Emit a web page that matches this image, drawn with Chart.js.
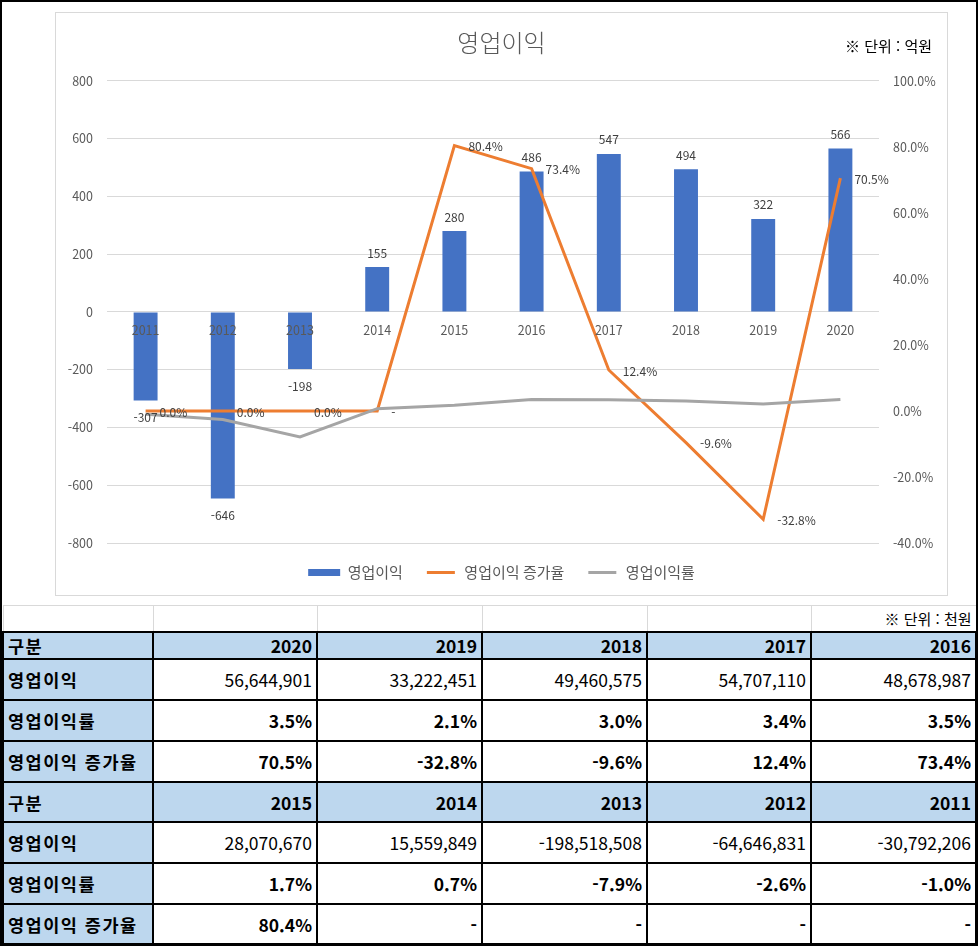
<!DOCTYPE html>
<html lang="ko">
<head>
<meta charset="utf-8">
<title>영업이익</title>
<script src="https://cdn.jsdelivr.net/npm/chart.js@4.4.1/dist/chart.umd.min.js"></script>
<style>
    html, body { margin: 0; padding: 0; background: #fff; }
    #page {
        position: relative;
        width: 978px;
        height: 946px;
        box-sizing: border-box;
        border: 2px solid #000;
        font-family: "Noto Sans CJK KR", "Noto Sans", sans-serif;
        overflow: hidden;
    }
    #chartBox {
        position: absolute;
        left: 53px;
        top: 10px;
        width: 893px;
        height: 584px;
        box-sizing: border-box;
        border: 1px solid #d9d9d9;
    }
    #chartBox canvas { display: block; }
    #unitChart {
        position: absolute;
        right: 44px;
        top: 33px;
        font-size: 15px;
        color: #000;
    }
    #dataTable {
        position: absolute;
        left: 0;
        top: 603px;
        width: 973px;
        border-collapse: collapse;
        table-layout: fixed;
        font-size: 17.5px;
        color: #000;
    }
    #dataTable td {
        border: 2px solid #000;
        padding: 0 4px;
        text-align: right;
        vertical-align: middle;
        white-space: nowrap;
        overflow: hidden;
    }
    #dataTable tr.unit td {
        border: 1px solid #d9d9d9;
        border-bottom: 2px solid #000;
        font-size: 15px;
        height: 25px;
    }
    #dataTable td.label { text-align: left; font-weight: bold; background: #bdd7ee; letter-spacing: 1.5px; }
    #dataTable tr.head td { background: #bdd7ee; font-weight: bold; }
    #dataTable td.pct { font-weight: bold; }
</style>
</head>
<body>
<div id="page">
    <div id="chartBox"><canvas id="opChart" width="891" height="582"></canvas></div>
    <div id="unitChart">※ 단위 : 억원</div>
    <table id="dataTable"></table>
</div>
<script>
// ---- data ----
const years = ['2011', '2012', '2013', '2014', '2015', '2016', '2017', '2018', '2019', '2020'];
const opProfit = [-307, -646, -198, 155, 280, 486, 547, 494, 322, 566];           // 억원
const growthRate = [0, 0, 0, 0, 80.4, 73.4, 12.4, -9.6, -32.8, 70.5];             // %
const growthLabels = ['0.0%', '0.0%', '0.0%', '-', '80.4%', '73.4%', '12.4%', '-9.6%', '-32.8%', '70.5%'];
const marginRate = [-1.0, -2.6, -7.9, 0.7, 1.7, 3.5, 3.4, 3.0, 2.1, 3.5];          // %

// table (천원)
const opProfitWon = [-30792206, -64646831, -198518508, 15559849, 28070670, 48678987, 54707110, 49460575, 33222451, 56644901];
const growthTable = ['-', '-', '-', '-', '80.4%', '73.4%', '12.4%', '-9.6%', '-32.8%', '70.5%'];

const tickColor = '#595959';
const gridColor = '#d9d9d9';
const fontFamily = '"Noto Sans CJK KR", "Noto Sans", sans-serif';

// ---- data labels ----
const labelPlugin = {
    id: 'valueLabels',
    afterDatasetsDraw(chart) {
        const ctx = chart.ctx;
        ctx.save();
        ctx.font = '12px ' + fontFamily;
        ctx.fillStyle = '#404040';
        ctx.textBaseline = 'middle';

        // bar labels
        const bars = chart.getDatasetMeta(0).data;
        bars.forEach((bar, i) => {
            const v = opProfit[i];
            ctx.textAlign = 'center';
            const y = v >= 0 ? bar.y - 14 : bar.y + 17;
            ctx.fillText(String(v), bar.x, y);
        });

        // growth labels
        const pts = chart.getDatasetMeta(1).data;
        pts.forEach((p, i) => {
            ctx.textAlign = 'left';
            ctx.fillText(growthLabels[i], p.x + 14, p.y + 1);
        });
        ctx.restore();
    }
};

const ctx = document.getElementById('opChart');
new Chart(ctx, {
    type: 'bar',
    data: {
        labels: years,
        datasets: [
            {
                label: '영업이익',
                data: opProfit,
                backgroundColor: '#4472c4',
                yAxisID: 'y',
                order: 3,
                categoryPercentage: 1,
                barPercentage: 0.31
            },
            {
                type: 'line',
                label: '영업이익 증가율',
                data: growthRate,
                borderColor: '#ed7d31',
                backgroundColor: '#ed7d31',
                borderWidth: 3,
                pointRadius: 0,
                tension: 0,
                yAxisID: 'y1',
                order: 2
            },
            {
                type: 'line',
                label: '영업이익률',
                data: marginRate,
                borderColor: '#a5a5a5',
                backgroundColor: '#a5a5a5',
                borderWidth: 3,
                pointRadius: 0,
                tension: 0,
                yAxisID: 'y1',
                order: 1
            }
        ]
    },
    options: {
        responsive: false,
        animation: false,
        layout: { padding: { left: 0, right: 0, top: 0, bottom: 5 } },
        plugins: {
            title: {
                display: true,
                text: '영업이익',
                color: tickColor,
                font: { size: 24, family: fontFamily, weight: 300 },
                padding: { top: 15, bottom: 24 }
            },
            legend: {
                position: 'bottom',
                labels: {
                    color: tickColor,
                    font: { size: 15, family: fontFamily },
                    boxWidth: 32,
                    boxHeight: 7,
                    padding: 22,
                    sort: (a, b) => a.datasetIndex - b.datasetIndex,
                    generateLabels: function(chart) {
                        const items = Chart.defaults.plugins.legend.labels.generateLabels(chart);
                        items.forEach(item => {
                            const ds = chart.data.datasets[item.datasetIndex];
                            item.fillStyle = ds.borderColor || ds.backgroundColor;
                            if (ds.type === 'line') {
                                item.strokeStyle = '#ffffff';
                                item.lineWidth = 4;
                            } else {
                                item.lineWidth = 0;
                            }
                        });
                        return items;
                    }
                }
            },
            tooltip: { enabled: false }
        },
        scales: {
            x: {
                position: { y: 0 },
                grid: { display: false, drawTicks: false },
                border: { display: false },
                ticks: {
                    z: 1,   // year labels sit on top of the bars
                    color: tickColor,
                    font: { size: 12.5, family: fontFamily },
                    padding: 11,
                    maxRotation: 0
                }
            },
            y: {
                position: 'left',
                min: -800,
                max: 800,
                grid: { color: gridColor, drawTicks: false },
                border: { display: false },
                ticks: {
                    stepSize: 200,
                    color: tickColor,
                    font: { size: 12.5, family: fontFamily },
                    padding: 14
                },
                afterFit: function(scale) { scale.width = 51; }
            },
            y1: {
                position: 'right',
                min: -40,
                max: 100,
                grid: { display: false, drawTicks: false },
                border: { display: false },
                ticks: {
                    stepSize: 20,
                    color: tickColor,
                    font: { size: 12.5, family: fontFamily },
                    padding: 14,
                    callback: function(v) { return v.toFixed(1) + '%'; }
                },
                afterFit: function(scale) { scale.width = 68; }
            }
        }
    },
    plugins: [labelPlugin]
});

// ---- table ----
function fmtNum(n) {
    return n.toLocaleString('en-US');
}
function fmtPct(v) {
    return v.toFixed(1) + '%';
}

const table = document.getElementById('dataTable');
const colWidths = [150, 164, 165, 165, 164, 165];
let html = '<colgroup>' + colWidths.map(w => '<col style="width:' + w + 'px">').join('') + '</colgroup>';
html += '<tr class="unit"><td></td><td></td><td></td><td></td><td></td><td>※ 단위 : 천원</td></tr>';

const blocks = [[9, 8, 7, 6, 5], [4, 3, 2, 1, 0]];
const headHeights = [27, 40];
blocks.forEach((idx, b) => {
    html += '<tr class="head" style="height:' + headHeights[b] + 'px"><td class="label">구분</td>' +
        idx.map(i => '<td>' + years[i] + '</td>').join('') + '</tr>';
    html += '<tr style="height:41px"><td class="label">영업이익</td>' +
        idx.map(i => '<td>' + fmtNum(opProfitWon[i]) + '</td>').join('') + '</tr>';
    html += '<tr style="height:41px"><td class="label">영업이익률</td>' +
        idx.map(i => '<td class="pct">' + fmtPct(marginRate[i]) + '</td>').join('') + '</tr>';
    html += '<tr style="height:' + (b === 0 ? 41 : 40) + 'px"><td class="label">영업이익 증가율</td>' +
        idx.map(i => '<td class="pct">' + growthTable[i] + '</td>').join('') + '</tr>';
});
table.innerHTML = html;
</script>
</body>
</html>
